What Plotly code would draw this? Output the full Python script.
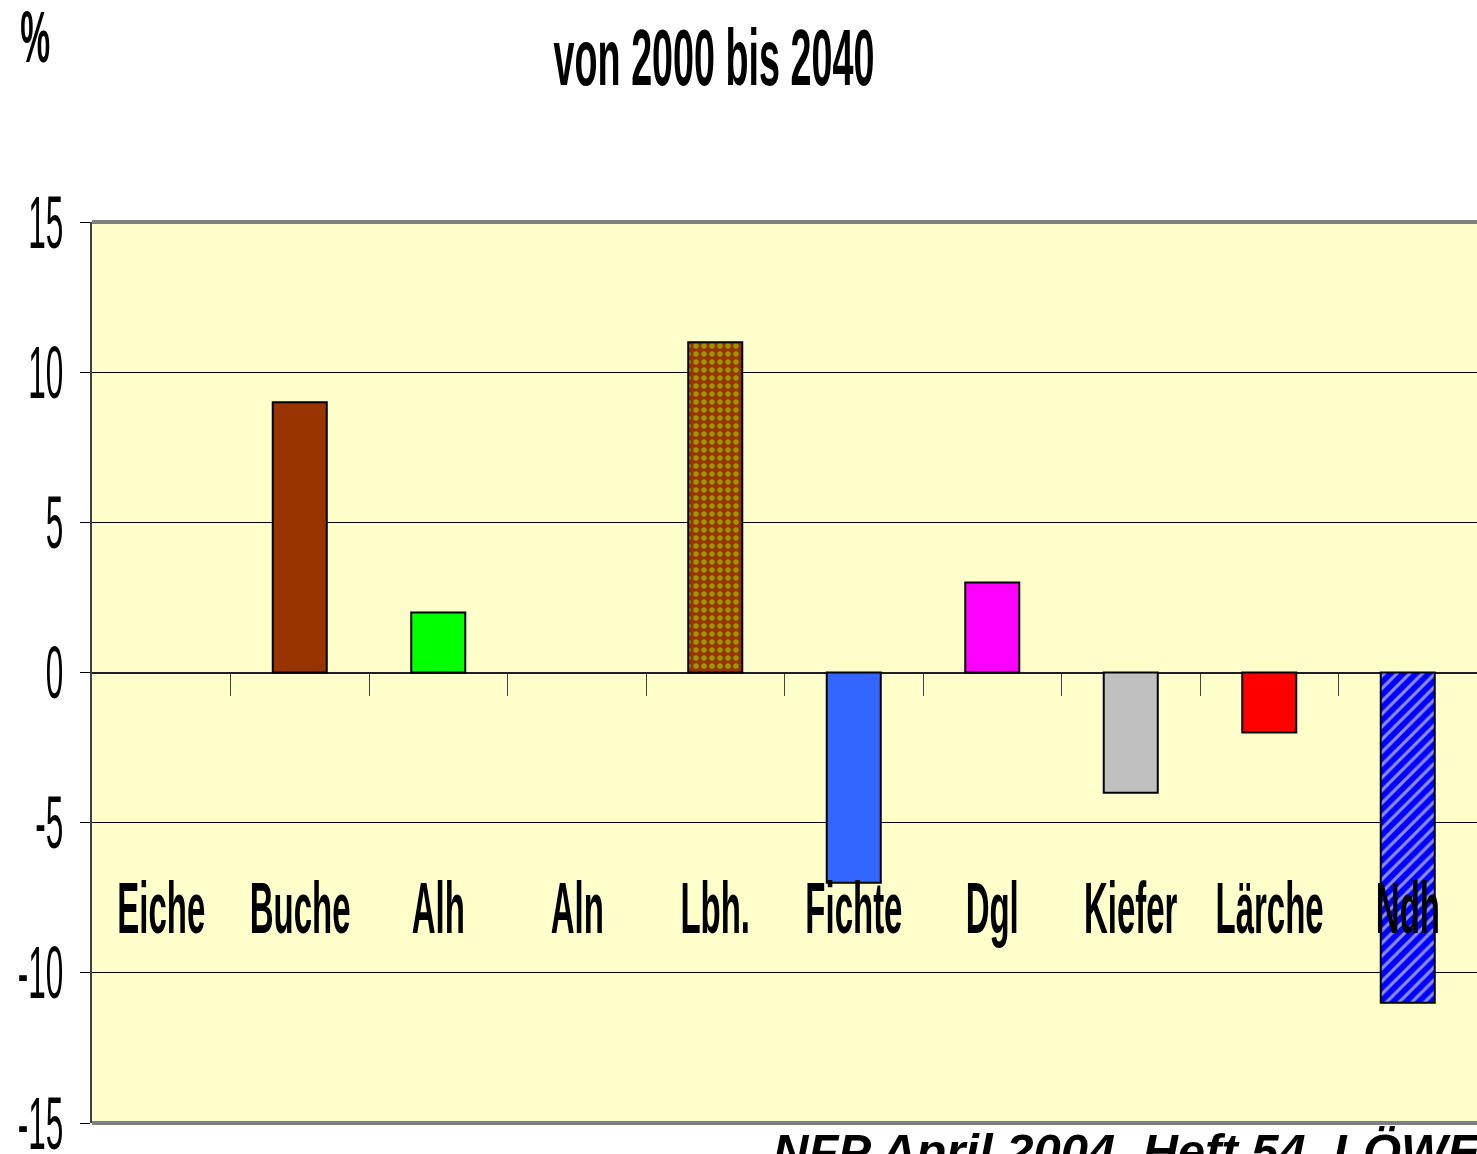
import plotly.graph_objects as go

# ---- data ----
categories = ["Eiche", "Buche", "Alh", "Aln", "Lbh.", "Fichte", "Dgl", "Kiefer", "Lärche", "Ndh"]
values = [0, 9, 2, 0, 11, -7, 3, -4, -2, -11]
bar_colors = ["#993300", "#993300", "#00FF00", "#FFFFCC", "#993300", "#3366FF",
              "#FF00FF", "#C0C0C0", "#FF0000", "#0000FF"]
pattern_shapes = ["", "", "", "", ".", "", "", "", "", "/"]
pattern_fg = ["#993300", "#993300", "#00FF00", "#FFFFCC", "#999900", "#3366FF",
              "#FF00FF", "#C0C0C0", "#FF0000", "#8C8CFF"]
y_ticks = [-15, -10, -5, 0, 5, 10, 15]
y_tick_labels = ["-15", "-10", "-5", "0", "5", "10", "15"]
title_text = "von 2000 bis 2040"
unit_text = "%"
source_text = "NFP April 2004, Heft 54, LÖWE"
label_y = -7.85

FONT = "Liberation Sans, Arial, sans-serif"

xpos = list(range(len(categories)))
boundaries = [i + 0.5 for i in xpos[:-1]]

fig = go.Figure()
for i, v, col, shp, fg in zip(xpos, values, bar_colors, pattern_shapes, pattern_fg):
    fig.add_trace(go.Bar(
        x=[i], y=[v], width=0.39, name=categories[i],
        marker=dict(
            color=col,
            line=dict(color="black", width=0 if v == 0 else 2),
            pattern=dict(shape=shp, fgcolor=fg, bgcolor=col,
                         size=9 if shp == "/" else 8, solidity=0.35, fillmode="replace"),
        ),
        hoverinfo="skip",
    ))

annotations = []
for i, c in zip(xpos, categories):
    annotations.append(dict(x=i, y=label_y, xref="x", yref="y", text=c, showarrow=False,
                            xanchor="center", yanchor="middle",
                            font=dict(family=FONT, size=40, color="black", weight="bold")))
annotations.append(dict(x=(35 - 92) / 1385, y=(1123 - 37) / 901, xref="paper", yref="paper",
                        text=unit_text, showarrow=False, xanchor="center", yanchor="middle",
                        font=dict(family=FONT, size=41, color="black", weight="bold")))
annotations.append(dict(x=(771 - 92) / 1385, y=(1123 - 1122) / 901, xref="paper", yref="paper",
                        text="<b><i>" + source_text + "</i></b>", showarrow=False,
                        xanchor="left", yanchor="top",
                        font=dict(family=FONT, size=49, color="black")))

fig.update_layout(
    width=1477, height=1154,
    margin=dict(l=92, r=0, t=222, b=31, pad=0),
    paper_bgcolor="white", plot_bgcolor="#FFFFCC",
    showlegend=False, barmode="overlay",
    title=dict(text=title_text, x=714 / 1477, xref="container", xanchor="center",
               y=1 - 57 / 1154, yref="container", yanchor="middle",
               font=dict(family=FONT, size=46, color="black", weight="bold")),
    xaxis=dict(range=[-0.5, 9.5], anchor="free", position=0.5,
               tickmode="array", tickvals=boundaries, ticks="outside", ticklen=22,
               tickcolor="#404040", tickwidth=1, showticklabels=False,
               showgrid=False, zeroline=False, showline=False, fixedrange=True),
    yaxis=dict(range=[-15, 15], tickmode="array", tickvals=y_ticks, ticktext=y_tick_labels,
               ticks="outside", ticklen=10, tickcolor="black", tickwidth=1,
               showgrid=True, gridcolor="black", gridwidth=1,
               zeroline=True, zerolinecolor="#202020", zerolinewidth=1.5,
               showline=True, linecolor="#404040", linewidth=2,
               ticklabelstandoff=9,
               tickfont=dict(family=FONT, size=38, color="black"), fixedrange=True),
    annotations=annotations,
    shapes=[
        dict(type="line", xref="paper", yref="paper", x0=0, x1=1, y0=1, y1=1,
             line=dict(color="#808080", width=4)),
        dict(type="line", xref="paper", yref="paper", x0=0, x1=1, y0=0, y1=0,
             line=dict(color="#808080", width=4)),
    ],
)

post_script = """
document.body.style.margin = '0';
document.body.style.overflow = 'hidden';
var gd = document.getElementById('{plot_id}');
function stretch(el, sx, sy){
  var bb = el.getBBox();
  var anchor = el.getAttribute('text-anchor') || 'start';
  var px = bb.x + bb.width / 2;
  if (anchor === 'end') { px = bb.x + bb.width; }
  else if (anchor === 'start') { px = bb.x; }
  var py = bb.y + bb.height / 2;
  var t = el.getAttribute('transform') || '';
  el.setAttribute('transform', t + ' translate(' + px + ',' + py + ') scale(' + sx + ',' + sy + ') translate(' + (-px) + ',' + (-py) + ')');
}
gd.querySelectorAll('.ytick text').forEach(function(el){ stretch(el, 0.83, 1.95); });
gd.querySelectorAll('.gtitle').forEach(function(el){ stretch(el, 0.82, 1.73); });
gd.querySelectorAll('.annotation-text').forEach(function(el){
  if (el.textContent.indexOf('NFP') >= 0) { return; }
  if (el.textContent === '%') { stretch(el, 0.82, 1.77); }
  else { stretch(el, 0.825, 1.82); }
});
"""

fig.write_html("out.html", post_script=post_script, config={"displayModeBar": False})
